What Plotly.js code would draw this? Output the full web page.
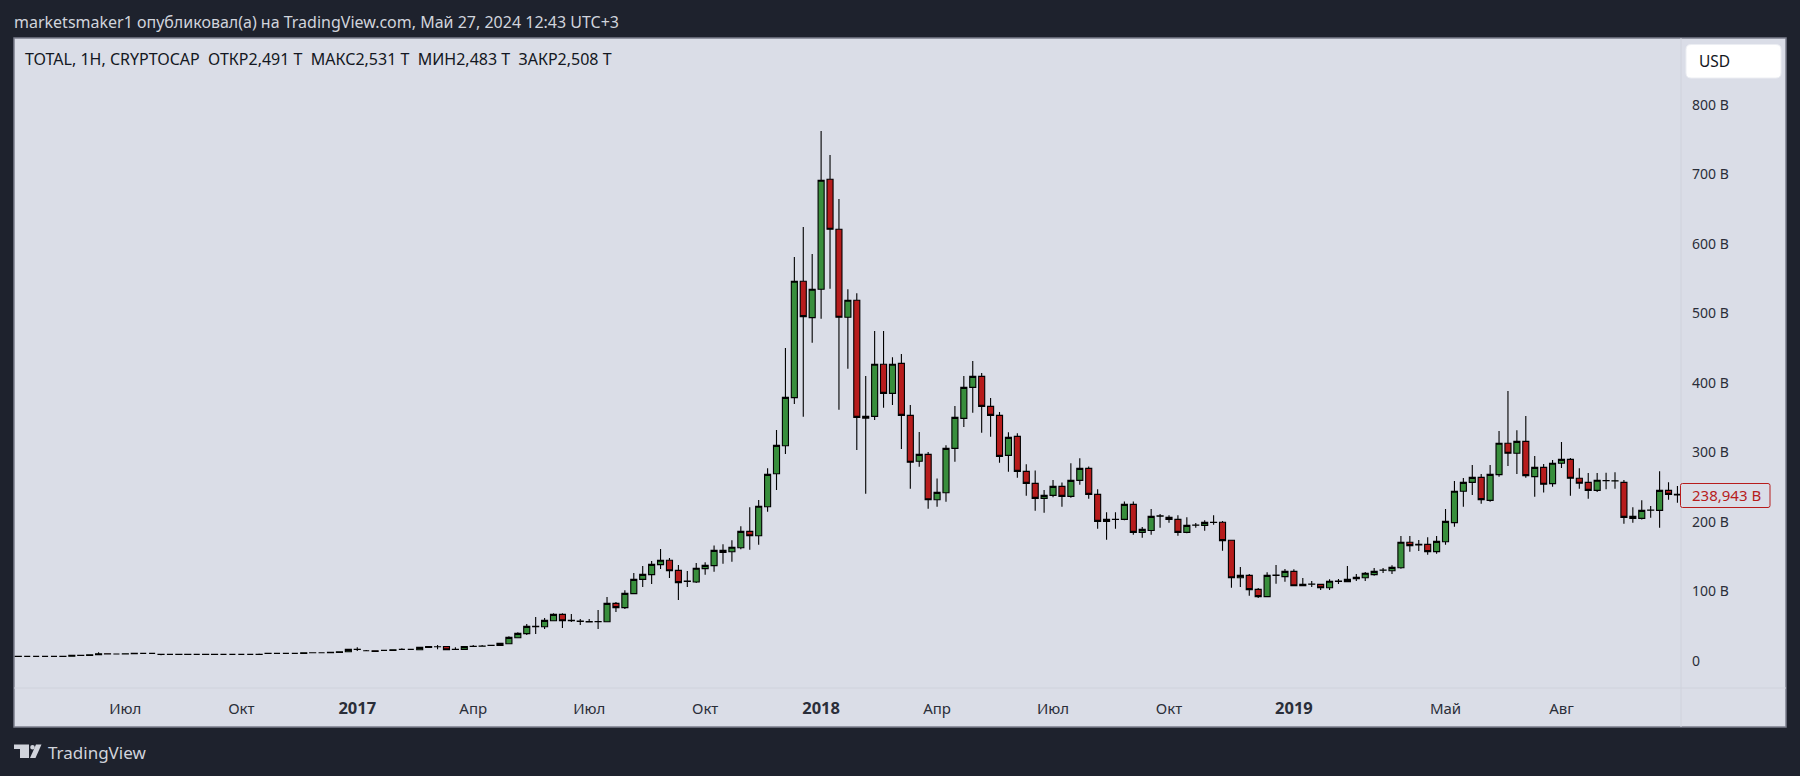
<!DOCTYPE html>
<html><head><meta charset="utf-8">
<script src="https://cdn.plot.ly/plotly-3.0.1.min.js"></script>
<style>html,body{margin:0;padding:0;background:#1e222d}#chart{width:1800px;height:776px}</style>
</head><body><div id="chart"></div>
<script>
// Weekly TOTAL crypto market cap, billions USD
const firstWeek = '2016-04-11';
const openB = [
6.6,6.7,6.7,6.7,6.7,6.7,6.8,8.1,8.0,9.0,
10.4,10.1,10.1,10.4,11,11,9.7,9.6,9.6,9.5,
9.6,9.6,9.5,9.6,9.6,9.6,9.6,9.6,10.9,11,
11,11,11,11.9,12,12,12.5,13.4,16.7,14.9,
14.9,15.3,15.3,16.8,16.8,16.3,19.7,20.5,21,16.7,
16.8,21,21.2,22.4,22.5,24.9,33.6,39.4,49.5,49.4,
58,67.2,58,57,56.7,56.6,56.6,83,76.8,97,
117.5,124.3,138.7,144.9,130.5,114.6,113.7,133,137.2,159.2,
157.3,163,186.6,180.3,222,269.5,309.8,379,546.4,494.1,
534.9,693.2,621.2,494.6,519,349.5,352,426.9,385.1,428.3,
353.5,287.4,297.4,232.1,242.2,306,349.2,393.8,409.6,366.4,
353.5,295.9,323.3,272.9,255.6,234,238.4,251.3,236.9,259.9,
277.2,239.8,200.9,203.6,203.8,225.4,185.1,187.9,208.4,206.7,
203.8,185.1,195.5,195.2,199.4,199.6,173.7,119.9,123.3,103.1,
92.6,123.3,121.4,129,110.3,110.6,110.3,105.5,114.6,114.2,
120.4,119.9,124.3,130.6,130,134.3,170.8,167,167.9,157.4,
171.7,199.1,244.2,257.1,264.3,231.2,268.2,313.3,298.9,316.1,
265.3,278.7,255.2,284.5,290.2,262.9,257.1,245.6,259.4,259,
257.1,208.2,205.3,217,216.8,245.6,239.8];
const highB = [
6.8,6.8,6.8,6.8,6.8,6.9,8.2,8.5,9.1,12.5,
11,11,10.8,11.2,11.4,11.4,10.6,9.8,9.8,9.8,
9.8,9.8,9.8,9.8,9.8,9.8,9.8,11,11.2,11.3,
11.2,12,12.1,12.2,12.2,12.7,13.8,17,19.7,15.8,
15,15.6,16.4,18.4,17,19.9,21.3,23,21.5,19.7,
21.3,23,23,22.8,25.7,35.5,41.3,53.3,63.3,61.9,
68.6,68.6,67.7,60.5,60.5,73.4,92.1,84.9,101.7,126.7,
136.7,143.9,161.2,148.2,138.2,129.5,141,142,166.4,167.9,
173.6,193.8,221.1,231.7,277.2,332.4,450.4,581.4,624.5,585.7,
762.7,728.1,664.8,534.9,529.1,410,474.9,474.9,437,441.8,
368.4,329.5,300.7,262.8,310.3,366.9,410.1,431.7,414.4,378.4,
358.3,329,327.6,283,274.3,246,260.4,257,284.4,291.6,
280,247,213.9,213.9,229.7,229.7,192.8,218.7,211.5,209.6,
209.6,206.7,198.5,202.4,209.6,201.5,173.7,135.3,125.2,105,
127.6,138.2,132.4,131.9,119.4,115.1,110.5,117.5,118,136.7,
125.2,128,133.8,133.8,137.7,179.9,179.9,174.1,178,179.9,
218.8,259,263.4,282.1,269.1,282.1,331,388.6,332,352.6,
295,283.5,289.3,315.2,292.1,277.5,270.6,270.6,271,271.5,
260.4,221.1,231.2,223,272.9,257.1,251.8];
const lowB = [
6.5,6.6,6.6,6.6,6.6,6.6,6.7,7.9,7.9,8.8,
9.8,9.6,9.8,10.2,10.6,10.4,8.2,9.3,9.3,9.3,
9.3,9.3,9.3,9.3,9.3,9.3,9.3,8.8,10.6,10.7,
10.8,10.5,11,11.7,11.8,11.9,12.3,13.2,14.4,14.4,
13.6,15,15.2,16.4,16.5,16.2,19,16.8,16,16.3,
16.6,20.8,20.9,22.2,22.2,24.7,33.4,37.4,38.9,46,
57.8,47.5,56,51.8,56,46,56.4,70.5,74.9,97,
106.5,110.8,132.4,119.5,87.8,106.5,112.3,124.2,128.5,140.1,
143,160.7,160.2,167.4,214.9,246,297.8,369.8,351.6,458,
492.6,535.7,361.7,420.7,303.6,240.8,346.8,364.5,368.4,305,
247.9,279.6,219.2,222,229.2,286.8,336.7,357.3,328.5,322.8,
285.4,272.4,263.8,237.9,216.3,213.4,235.5,222,235,253.7,
233.6,190.4,174.6,190.4,202.4,181.7,177.4,181.7,191.8,199,
180.3,183.7,191.8,187.5,196,158.8,105.5,106.5,94,90.7,
92.6,111.3,114.2,108.4,108,106.5,102.2,102.2,110.8,113.5,
115.1,115.1,122.8,126.6,125.2,132.9,157.4,158.3,153,154.5,
167.4,193.3,222.1,238.9,226.4,229.3,265.3,280.6,269.1,263.8,
236.5,242.3,250.9,277.8,237.9,248,233.6,243.2,247,248,
197.6,199,203.8,206,191.8,232.1,227.8];
const closeB = [
6.7,6.7,6.7,6.7,6.7,6.8,8.1,8.3,8.9,10.5,
10.1,10.1,10.4,11,11,11,9.6,9.6,9.5,9.6,
9.6,9.5,9.6,9.6,9.6,9.6,9.6,9.7,11,11,
11,11,11.9,12,12,12.5,13.4,16.8,16.9,14.9,
13.9,15.3,16.3,16.8,16.8,19.7,21,20.6,16.3,16.8,
21,21.2,21.5,22.5,25.4,34,39.8,49.9,50,58.5,
67.2,58,58.5,57.5,56.4,56.9,83,76.8,97.4,117.5,
124.7,139.1,144.9,130,112.8,115,133.4,137.7,159.2,156.4,
163.6,186.6,180.3,222.6,268.6,310.3,379.4,546.4,495.5,534.9,
691.7,621.2,494.6,519,350.6,352,426.9,385.1,426.9,353.5,
285.9,297.4,232.1,242.7,306,350.6,393.8,409.6,366.4,353.5,
294.5,321.8,272.9,255.6,234,238.4,251.3,236.9,259.9,277.2,
239.8,200.9,203.8,204,225.4,185.1,189.4,208.1,208.8,203.8,
185.1,195.2,195.8,199.5,199.7,173.2,119.9,123.3,102.7,92.6,
123.3,123.7,129,108.4,108.4,110.9,105.5,114.7,114.9,117.5,
118.5,126.2,129,130.9,134.8,170.8,166,168,157.4,172.2,
201,244.2,257.1,264.3,232.2,268.6,313.3,298.9,316.1,266.7,
278.7,254.3,284.5,290.2,262.9,255.7,245.6,260,259.8,259.4,
206.7,205.3,216.8,217.4,245.6,239.8,238.9];

const priceTicks = [0,100,200,300,400,500,600,700,800];
const priceLabels = ['0','100 B','200 B','300 B','400 B','500 B','600 B','700 B','800 B'];
const timeTicks = ['2016-07-04','2016-10-03','2017-01-02','2017-04-03','2017-07-03','2017-10-02','2018-01-01','2018-04-02','2018-07-02','2018-10-01','2019-01-07','2019-05-06','2019-08-05'];
const year = y => '<span style="font-size:16.5px"><b>' + y + '</b></span>';
const timeLabels = ['Июл','Окт',year('2017'),'Апр','Июл','Окт',year('2018'),'Апр','Июл','Окт',year('2019'),'Май','Авг'];
const lastPrice = 238.943;
const weeks = closeB.map((_, i) => new Date(Date.parse(firstWeek + 'T00:00:00Z') + i * 7 * 864e5).toISOString().slice(0, 10));

const FONT = '"Noto Sans", sans-serif';
const W = 1800, H = 776, L = 14, R = 1681, T = 38, B = 688;
const px = v => (v - L) / (R - L), py = v => (B - v) / (B - T);
const BG = '#dadde7', DARK = '#1e222d', LIGHT = '#d1d4dc', INK = '#2a2e39', RED = '#b71c1c', GREEN = '#388e3c';
const rrect = (x0, y0, x1, y1, r) => `M${px(x0 + r)},${py(y0)} L${px(x1 - r)},${py(y0)} Q${px(x1)},${py(y0)} ${px(x1)},${py(y0 + r)} L${px(x1)},${py(y1 - r)} Q${px(x1)},${py(y1)} ${px(x1 - r)},${py(y1)} L${px(x0 + r)},${py(y1)} Q${px(x0)},${py(y1)} ${px(x0)},${py(y1 - r)} L${px(x0)},${py(y0 + r)} Q${px(x0)},${py(y0)} ${px(x0 + r)},${py(y0)} Z`;
const poly = pts => 'M' + pts.map(p => px(p[0]) + ',' + py(p[1])).join(' L') + ' Z';
const paperShape = o => Object.assign({xref: 'paper', yref: 'paper', layer: 'below'}, o);

const shapes = [
  paperShape({type: 'rect', x0: px(14), x1: px(1786), y0: py(727), y1: py(38), fillcolor: BG, line: {color: '#7b7e8c', width: 1.5}}),
  paperShape({type: 'line', x0: px(14), x1: px(1786), y0: py(688), y1: py(688), line: {color: '#cfd2dc', width: 1}}),
  paperShape({type: 'line', x0: px(1681), x1: px(1681), y0: py(727), y1: py(38), line: {color: '#cfd2dc', width: 1}}),
  paperShape({type: 'path', path: rrect(1686, 44.5, 1781, 78, 5), fillcolor: '#ffffff', line: {color: '#eceef3', width: 1}, layer: 'above'}),
  paperShape({type: 'path', path: rrect(1680.5, 483.5, 1770, 507.5, 2), fillcolor: BG, line: {color: RED, width: 1}, layer: 'above'}),
  paperShape({type: 'path', path: poly([[14,744.5],[29,744.5],[29,758],[20,758],[20,749],[14,749]]), fillcolor: LIGHT, line: {width: 0}}),
  paperShape({type: 'circle', x0: px(30.2), x1: px(34.8), y0: py(749.5), y1: py(744.9), fillcolor: LIGHT, line: {width: 0}}),
  paperShape({type: 'path', path: poly([[36,744.5],[41.5,744.5],[35.5,758],[30,758]]), fillcolor: LIGHT, line: {width: 0}})
];

const text = (x, y, t, color, size, anchor) => ({xref: 'paper', yref: 'paper', x: px(x), y: py(y), xanchor: anchor || 'left', yanchor: 'middle', showarrow: false, align: 'left', text: t, font: {family: FONT, size: size || 14, color}});
const annotations = [
  text(12, 21.5, 'marketsmaker1 опубликовал(а) на TradingView.com, Май 27, 2024 12:43 UTC+3', LIGHT, 16),
  text(23, 59, 'TOTAL, 1H, CRYPTOCAP&nbsp;&nbsp;ОТКР2,491 T&nbsp;&nbsp;МАКС2,531 T&nbsp;&nbsp;МИН2,483 T&nbsp;&nbsp;ЗАКР2,508 T', '#131722', 16),
  text(1697, 61, 'USD', '#131722', 15.5),
  text(1690, 495.5, lastPrice.toFixed(3).replace('.', ',') + ' B', RED, 15),
  text(46, 752, 'TradingView', LIGHT, 17)
];

Plotly.newPlot('chart', [{
  type: 'candlestick', x: weeks, open: openB, high: highB, low: lowB, close: closeB,
  whiskerwidth: 0, hoverinfo: 'skip',
  increasing: {fillcolor: GREEN, line: {color: '#000000', width: 1.1}},
  decreasing: {fillcolor: RED, line: {color: '#000000', width: 1.1}}
}], {
  width: W, height: H, showlegend: false, boxgap: 0.2, boxgroupgap: 0.15,
  paper_bgcolor: DARK, plot_bgcolor: 'rgba(0,0,0,0)',
  margin: {l: L, r: W - R, t: T, b: H - B, pad: 0},
  font: {family: FONT, color: INK, size: 14},
  xaxis: {type: 'date', range: ['2016-04-07 15:00', '2019-11-06 19:00'], rangeslider: {visible: false},
    tickmode: 'array', tickvals: timeTicks, ticktext: timeLabels, tickangle: 0, ticks: '', showgrid: false, zeroline: false, showline: false,
    tickfont: {family: FONT, size: 15, color: INK}, ticklabelstandoff: 10},
  yaxis: {side: 'right', range: [-38.8, 896.4], tickmode: 'array', tickvals: priceTicks, ticktext: priceLabels, ticks: '', showgrid: false, zeroline: false, showline: false,
    tickfont: {family: FONT, size: 14, color: INK}, ticklabelstandoff: 10},
  shapes, annotations
}, {staticPlot: true, displayModeBar: false});
</script></body></html>
